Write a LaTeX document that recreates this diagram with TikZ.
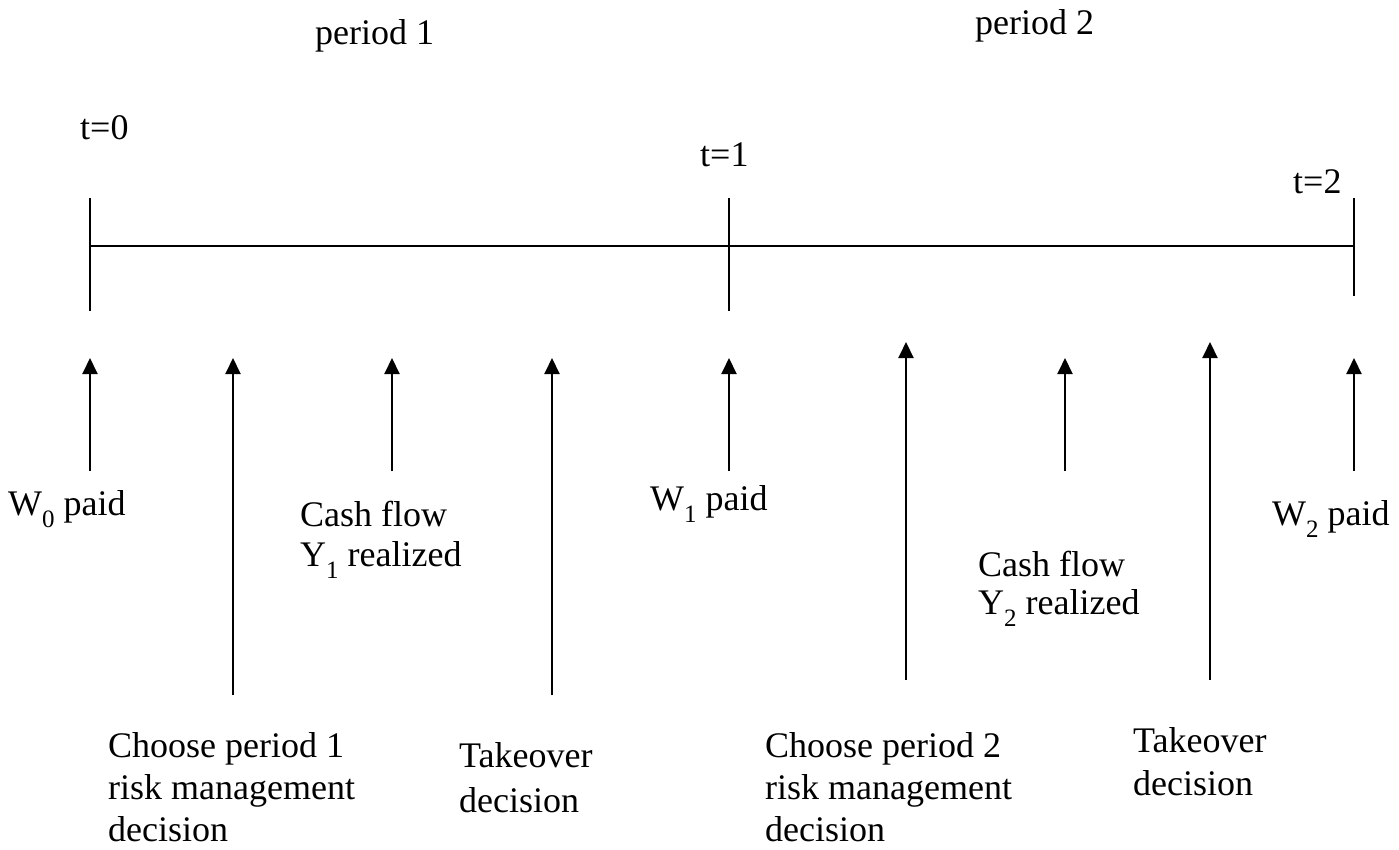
\documentclass[tikz,border=0pt]{standalone}
\usepackage{fontspec}
\setmainfont{Liberation Serif}
\usetikzlibrary{arrows.meta}
\newcommand{\lowsub}[1]{\raisebox{-12pt}{\fontsize{25}{25}\selectfont #1}}
\begin{document}
\begin{tikzpicture}[x=1pt,y=1pt,
  lbl/.style={inner sep=0pt, font=\fontsize{36}{42}\selectfont, anchor=base west},
  ev/.style={line width=2pt, -{Triangle[width=15pt,length=16pt]}},
  axisline/.style={line width=2pt}]
\useasboundingbox (0,0) rectangle (1399,-850);
% timeline
\coordinate (a0) at (90,-246);
\coordinate (a1) at (729,-246);
\coordinate (a2) at (1354,-246);
\coordinate (k0t) at (90,-198);  \coordinate (k0b) at (90,-311);
\coordinate (k1t) at (729,-198); \coordinate (k1b) at (729,-311);
\coordinate (k2t) at (1354,-198);\coordinate (k2b) at (1354,-296);
\draw[axisline] (a0) -- (a2);
\draw[axisline] (k0t) -- (k0b);
\draw[axisline] (k1t) -- (k1b);
\draw[axisline] (k2t) -- (k2b);
% top labels
\node[lbl] (p1) at (315,-45) {period 1};
\node[lbl] (p2) at (975,-35) {period 2};
\node[lbl] (t0) at (80,-140) {t=0};
\node[lbl] (t1) at (700,-167) {t=1};
\node[lbl] (t2) at (1293,-194) {t=2};
% arrows
\coordinate (e1b) at (90,-471);   \coordinate (e1t) at (90,-358);
\coordinate (e2b) at (233,-695);  \coordinate (e2t) at (233,-358);
\coordinate (e3b) at (392,-471);  \coordinate (e3t) at (392,-358);
\coordinate (e4b) at (552,-695);  \coordinate (e4t) at (552,-358);
\coordinate (e5b) at (729,-471);  \coordinate (e5t) at (729,-358);
\coordinate (e6b) at (906,-680);  \coordinate (e6t) at (906,-342);
\coordinate (e7b) at (1065,-471); \coordinate (e7t) at (1065,-358);
\coordinate (e8b) at (1210,-680); \coordinate (e8t) at (1210,-342);
\coordinate (e9b) at (1354,-471); \coordinate (e9t) at (1354,-358);
\foreach \i in {1,...,9} \draw[ev] (e\i b) -- (e\i t);
% event labels
\node[lbl] (w0) at (8,-515) {W\lowsub{0} paid};
\node[lbl] (cf1a) at (300,-526) {Cash flow};
\node[lbl] (cf1b) at (300,-566) {Y\lowsub{1} realized};
\node[lbl] (w1) at (650,-510) {W\lowsub{1} paid};
\node[lbl] (cf2a) at (978,-576) {Cash flow};
\node[lbl] (cf2b) at (978,-614) {Y\lowsub{2} realized};
\node[lbl] (w2) at (1272,-525) {W\lowsub{2} paid};
\node[lbl] (c1a) at (108,-757) {Choose period 1};
\node[lbl] (c1b) at (108,-799) {risk management};
\node[lbl] (c1c) at (108,-841) {decision};
\node[lbl] (to1a) at (459,-767) {Takeover};
\node[lbl] (to1b) at (459,-812) {decision};
\node[lbl] (c2a) at (765,-757) {Choose period 2};
\node[lbl] (c2b) at (765,-799) {risk management};
\node[lbl] (c2c) at (765,-841) {decision};
\node[lbl] (to2a) at (1133,-752) {Takeover};
\node[lbl] (to2b) at (1133,-795) {decision};
\end{tikzpicture}
\end{document}
